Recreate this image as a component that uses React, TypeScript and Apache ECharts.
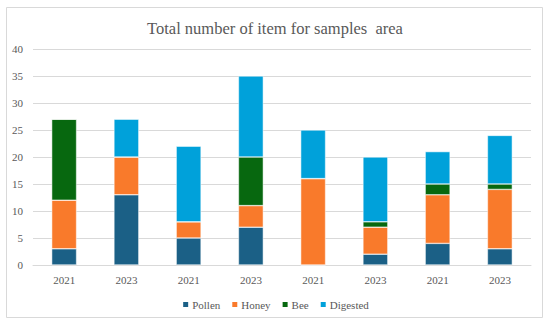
import React, { useEffect, useRef } from "react";
import * as echarts from "echarts";

const categories = ["2021", "2023", "2021", "2023", "2021", "2023", "2021", "2023"];
const pollen = [3, 13, 5, 7, 0, 2, 4, 3];
const honey = [9, 7, 3, 4, 16, 5, 9, 11];
const bee = [15, 0, 0, 9, 0, 1, 2, 1];
const digested = [0, 7, 14, 15, 9, 12, 6, 9];
const seriesNames = ["Pollen", "Honey", "Bee", "Digested"];
const seriesColors = ["#1B6086", "#F97A2B", "#07680F", "#00A1DA"];
const title = "Total number of item for samples  area";

export default function App() {
  const ref = useRef<HTMLDivElement>(null);
  useEffect(() => {
    document.body.style.margin = "0";
    const chart = echarts.init(ref.current!, null, { renderer: "svg" });
    const font = "'Liberation Serif', 'DejaVu Serif', serif";
    const values = [pollen, honey, bee, digested];
    chart.setOption({
      animation: false,
      textStyle: { fontFamily: font },
      title: {
        text: title,
        left: "center",
        top: 15,
        textStyle: { fontFamily: font, fontSize: 16.5, fontWeight: "normal", color: "#595959" },
      },
      graphic: [
        {
          type: "rect",
          shape: { x: 6.5, y: 7.5, width: 536, height: 310 },
          style: { fill: "none", stroke: "#d9d9d9", lineWidth: 1 },
          silent: true,
        },
      ],
      legend: {
        top: 294,
        left: "center",
        itemWidth: 7,
        itemHeight: 7,
        itemGap: 10,
        icon: "rect",
        textStyle: { fontFamily: font, fontSize: 11, color: "#595959", padding: [0, 0, 0, -2] },
        data: seriesNames,
      },
      grid: { left: 33, right: 19, top: 49, bottom: 60 },
      xAxis: {
        type: "category",
        data: categories,
        axisLine: { lineStyle: { color: "#d9d9d9" } },
        axisTick: { show: false },
        axisLabel: { fontFamily: font, fontSize: 11, color: "#595959", margin: 9 },
      },
      yAxis: {
        type: "value",
        min: 0,
        max: 40,
        interval: 5,
        axisLine: { show: false },
        axisTick: { show: false },
        splitLine: { lineStyle: { color: "#d9d9d9" } },
        axisLabel: { fontFamily: font, fontSize: 11, color: "#595959", margin: 10 },
      },
      series: seriesNames.map((name, i) => ({
        name,
        type: "bar",
        stack: "total",
        barWidth: "40%",
        data: values[i],
        itemStyle: { color: seriesColors[i], borderColor: "#ffffff", borderWidth: 0.5 },
      })),
    });
    return () => chart.dispose();
  }, []);
  return <div ref={ref} style={{ width: 550, height: 325 }} />;
}
